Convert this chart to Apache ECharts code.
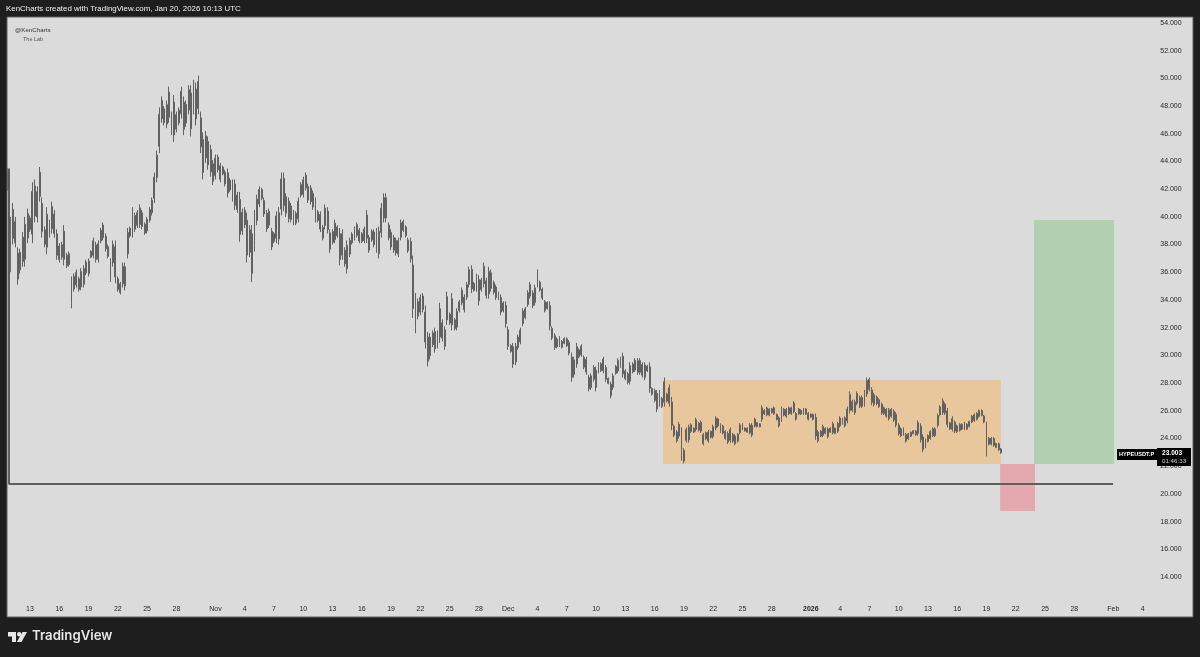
<!DOCTYPE html>
<html>
<head>
<meta charset="utf-8">
<title>HYPEUSDT.P</title>
<style>
    html, body { margin: 0; padding: 0; background: #1e1e1e; }
    #chart { width: 1200px; height: 657px; filter: blur(0.35px); }
</style>
<script src="https://cdn.jsdelivr.net/npm/echarts@6/dist/echarts.min.js"></script>
</head>
<body>
<div id="chart"></div>
<script>
// 6h bars
const highs = [
    43.5,40.0,41.0,40.0,37.8,37.7,38.9,40.0,40.6,40.1,42.5,42.7,42.2,43.6,41.4,39.3,40.7,39.8,41.1,40.5,
    39.1,38.1,38.2,39.4,37.4,37.5,35.7,35.9,36.2,35.7,36.3,36.5,36.9,37.0,37.6,38.5,38.2,38.3,39.2,39.6,
    38.8,38.0,37.0,38.3,38.3,35.7,35.3,36.7,36.7,39.2,39.3,40.7,40.3,40.5,40.9,40.5,39.6,40.0,40.7,41.4,
    43.2,44.8,47.9,48.7,48.0,48.4,49.4,47.6,48.8,47.6,47.9,49.4,48.7,48.4,49.5,49.5,49.9,49.7,50.2,47.6,
    46.1,46.2,45.8,45.2,44.1,44.5,44.5,43.9,43.7,43.4,43.5,42.8,42.7,42.7,41.8,41.8,40.6,40.7,40.3,39.4,
    39.4,40.5,41.6,42.2,42.1,41.4,40.5,40.6,39.2,38.9,40.4,40.7,43.2,43.2,41.7,41.4,41.0,40.5,40.4,41.4,
    42.5,42.9,43.2,42.4,42.3,41.9,41.4,40.5,40.4,39.4,40.9,40.7,39.1,39.1,39.8,39.4,39.2,39.1,37.8,38.3,
    38.5,38.9,39.3,39.6,39.2,38.9,39.3,40.5,38.7,39.1,39.1,39.2,39.3,41.0,41.7,41.7,39.6,39.1,38.7,38.5,
    38.5,39.8,39.8,39.4,38.5,38.5,37.2,34.5,34.1,34.4,34.5,33.6,31.7,31.6,31.8,32.0,31.8,33.8,32.6,32.1,
    34.6,33.1,34.5,32.7,33.4,34.0,34.9,34.4,35.3,36.4,36.5,35.3,35.9,35.8,35.6,36.7,35.6,36.4,36.2,35.4,
    35.1,34.6,34.4,33.9,33.9,32.1,30.8,30.9,30.9,31.5,32.0,33.4,33.5,34.7,35.3,34.7,35.1,36.2,35.4,34.9,
    34.0,33.9,33.9,32.1,31.6,31.3,31.4,31.1,31.3,31.3,31.1,30.2,29.9,30.9,30.5,30.8,30.0,29.9,28.6,28.7,
    29.3,29.2,29.5,29.5,29.9,29.3,28.4,28.1,28.7,29.3,29.8,29.9,30.2,29.0,28.8,29.5,29.5,29.8,29.8,29.8,
    29.5,29.5,29.3,29.5,27.7,27.6,27.5,27.5,27.0,28.4,27.3,27.9,27.0,25.0,24.6,25.2,24.8,23.3,24.8,25.0,
    25.1,24.8,25.5,25.2,25.3,24.4,24.5,24.6,24.6,25.0,25.6,25.5,25.1,25.0,24.6,24.5,24.8,24.4,24.3,24.4,
    25.1,25.1,24.8,24.8,25.1,25.1,25.5,25.2,25.1,26.4,26.1,26.3,26.2,26.2,26.3,25.8,25.6,26.3,26.2,26.2,
    26.3,26.3,26.7,25.9,26.2,26.1,26.2,26.2,25.9,25.8,25.8,25.8,24.6,24.6,25.0,24.8,24.8,24.8,25.2,24.8,
    25.2,25.6,25.5,25.6,26.3,27.4,26.8,26.8,27.4,27.1,27.1,27.5,28.4,28.4,27.7,27.3,27.1,26.9,26.6,26.3,
    26.2,26.2,26.2,26.1,25.9,25.1,24.8,24.8,24.4,24.4,24.5,24.6,24.6,25.3,25.1,24.3,24.0,24.3,24.6,24.8,
    24.8,25.8,26.4,26.9,26.6,26.2,25.2,25.6,25.3,25.0,25.1,25.1,25.2,25.1,25.3,25.7,25.8,25.9,26.1,26.1,
    25.7,25.2,24.1,24.1,24.1,23.7,23.7,23.3
];
const lows = [
    41.9,36.0,38.0,37.8,35.1,35.9,36.4,36.4,38.1,38.9,38.1,39.6,39.6,41.1,38.5,37.8,37.3,38.5,38.8,38.5,
    36.9,36.7,36.9,36.5,36.3,36.4,33.4,34.6,34.9,34.6,34.7,34.9,35.8,35.7,37.0,37.0,36.7,36.7,38.1,38.3,
    37.5,37.0,35.3,36.4,35.2,34.6,34.4,34.9,34.7,37.0,38.5,38.5,38.9,39.2,39.2,39.1,38.7,38.8,39.6,40.1,
    41.0,42.5,44.6,46.8,46.6,46.4,46.8,45.9,45.4,46.1,46.6,47.1,45.9,46.5,47.4,45.8,47.4,46.6,47.4,44.6,
    42.7,43.9,43.4,42.9,42.3,42.7,43.2,42.5,43.0,42.2,41.4,41.8,41.1,40.5,40.3,38.2,38.7,39.2,36.7,37.1,
    35.3,37.5,39.4,40.7,41.2,40.0,38.9,39.2,37.6,38.1,38.1,38.0,40.1,40.4,40.0,39.6,39.6,39.4,39.4,39.6,
    41.4,41.4,41.9,41.0,40.9,40.5,39.6,39.6,38.9,38.3,39.1,38.8,37.4,38.0,38.1,38.5,36.5,36.9,36.4,35.9,
    37.1,38.0,38.3,38.5,38.1,38.1,38.1,38.1,37.4,38.2,37.8,37.4,37.0,38.5,39.6,39.6,38.3,37.6,37.4,37.2,
    37.1,38.3,38.9,38.5,37.4,36.7,32.7,31.6,32.6,32.9,33.1,30.5,29.2,29.7,30.6,30.2,30.5,30.9,31.0,30.4,
    32.2,32.2,31.8,31.8,31.8,33.1,33.6,33.1,34.0,34.9,34.5,34.6,34.6,33.6,34.6,34.9,34.1,34.1,34.6,34.4,
    34.0,34.0,32.9,33.1,32.0,30.4,30.2,29.1,29.3,30.4,30.8,32.1,32.6,33.5,34.1,33.4,33.6,34.9,34.6,34.0,
    33.1,33.3,31.8,31.1,30.4,30.5,30.6,30.5,30.8,30.6,30.0,28.1,28.4,29.1,29.8,29.9,29.0,28.6,27.4,27.5,
    28.1,27.4,28.7,28.8,28.7,28.1,27.9,26.9,27.5,28.6,28.7,29.1,28.4,28.2,27.9,27.9,28.7,28.8,28.6,28.6,
    28.4,28.2,28.8,27.3,27.1,26.6,25.9,26.3,26.2,26.3,26.6,26.3,24.6,24.1,23.7,24.0,22.4,22.2,23.7,23.7,
    24.4,24.4,24.5,24.5,24.4,23.5,23.9,23.7,24.0,24.0,24.6,24.8,24.4,24.3,23.9,23.6,23.7,23.7,23.5,23.7,
    24.3,24.6,24.5,24.4,24.3,24.1,24.8,24.8,24.8,25.2,25.7,25.6,25.6,25.8,25.7,25.3,24.8,25.2,25.6,25.5,
    25.7,25.7,25.8,25.3,25.7,25.7,25.7,25.7,25.3,25.5,25.3,23.9,23.7,24.1,24.1,24.3,24.0,24.4,24.3,24.3,
    24.4,24.8,25.0,24.8,25.1,25.8,25.9,25.7,26.4,26.2,26.2,26.3,27.0,27.4,26.4,26.3,26.4,26.2,25.7,25.7,
    25.5,25.3,25.5,25.2,24.8,24.2,24.1,24.2,23.7,23.9,24.1,24.3,24.2,24.2,23.7,23.0,23.3,23.7,23.9,24.1,
    24.1,24.8,25.6,25.7,25.7,24.8,24.6,24.5,24.4,24.4,24.5,24.6,24.6,24.6,24.8,25.1,25.2,25.3,25.5,25.6,
    25.1,22.7,23.5,23.5,23.4,23.3,23.1,22.9
];
const closes = [
    42.2,38.5,39.0,38.2,36.0,36.5,37.2,38.8,39.5,39.4,40.5,41.0,41.5,41.5,39.3,38.8,39.0,39.2,40.0,39.0,
    37.5,37.2,37.5,37.0,36.8,36.5,34.5,35.2,35.3,35.0,35.5,36.0,36.2,36.8,37.4,37.5,37.3,38.0,38.6,38.5,
    37.9,37.1,36.3,37.5,35.6,35.0,35.0,35.8,36.5,38.5,38.9,39.5,39.4,39.6,40.0,39.4,39.1,39.6,40.2,41.0,
    42.0,43.8,46.8,47.8,47.0,47.5,47.2,46.5,47.0,46.8,47.6,48.0,47.2,47.7,48.3,47.5,48.5,47.6,47.8,45.0,
    44.0,44.8,44.2,43.5,43.0,43.5,43.4,43.0,43.2,42.8,42.0,42.2,41.8,41.2,40.8,39.6,39.4,39.8,38.0,38.0,
    37.5,39.0,40.5,41.5,41.5,40.5,39.8,39.3,38.2,38.6,39.5,40.0,42.0,41.5,40.5,40.3,40.0,39.8,40.0,41.0,
    41.9,42.5,41.9,41.5,41.4,41.0,40.2,40.0,39.3,39.0,40.2,39.0,38.0,38.7,38.8,38.9,37.8,37.2,37.0,37.5,
    38.2,38.6,38.9,38.9,38.5,38.6,38.9,38.3,38.0,38.8,38.2,38.6,38.8,40.0,40.5,39.9,38.8,38.0,37.8,37.6,
    38.3,39.4,39.0,38.6,38.0,37.0,33.5,33.2,33.7,33.5,33.4,31.2,30.2,31.0,31.1,30.8,31.2,32.0,31.4,31.8,
    32.6,32.4,32.2,32.4,33.0,33.7,33.9,34.0,35.0,35.8,35.0,35.1,35.4,35.0,35.2,35.3,34.8,35.5,35.0,34.8,
    34.3,34.1,33.5,33.4,32.2,30.6,30.5,29.8,30.2,31.0,31.8,32.6,33.2,34.2,34.5,34.0,34.6,35.2,34.8,34.2,
    33.5,33.6,32.0,31.3,30.9,31.0,31.0,30.9,31.1,30.9,30.2,29.0,29.7,30.0,30.1,30.0,29.3,28.7,27.9,28.1,
    28.5,29.0,29.2,29.0,28.9,28.3,28.0,27.6,28.5,29.0,29.5,29.3,28.7,28.5,28.6,29.2,29.0,29.4,29.0,29.2,
    28.9,29.1,29.2,27.6,27.5,27.0,26.8,26.6,26.5,26.9,27.0,26.6,25.0,24.5,24.0,24.5,22.9,23.0,24.4,24.6,
    24.7,24.6,25.0,24.9,24.6,24.0,24.2,24.3,24.4,24.8,25.4,25.0,24.8,24.5,24.2,24.0,24.2,24.0,24.1,24.3,
    24.9,24.8,24.6,24.7,24.9,24.5,25.2,25.0,25.1,26.1,25.9,25.9,25.9,26.0,25.8,25.5,25.2,26.0,25.8,26.0,
    25.8,26.0,25.9,25.6,26.0,25.9,26.0,25.9,25.5,25.7,25.5,24.3,24.2,24.4,24.8,24.5,24.6,24.5,24.9,24.6,
    25.0,25.2,25.3,25.4,26.0,26.2,26.2,26.7,26.7,26.6,26.9,27.2,28.0,27.4,26.9,26.8,26.6,26.4,26.0,25.9,
    25.9,25.8,25.7,25.6,25.1,24.6,24.6,24.3,24.0,24.2,24.4,24.4,24.5,24.5,24.0,23.5,23.9,24.2,24.5,24.6,
    24.7,25.6,26.0,26.1,25.8,25.0,25.0,24.8,24.7,24.8,24.7,24.8,24.8,24.9,25.2,25.6,25.7,25.8,25.9,25.7,
    25.2,24.0,23.8,23.8,23.6,23.5,23.2,23.0
];

// x axis: day number counted from Oct 13, the label shown there
const tickDays = [0,3,6,9,12,15,19,22,25,28,31,34,37,40,43,46,49,52,55,58,61,64,67,70,73,76,80,83,86,89,92,95,98,101,104,107,111,114];
const tickLabels = ['13','16','19','22','25','28','Nov','4','7','10','13','16','19','22','25','28','Dec','4','7','10','13','16','19','22','25','28','2026','4','7','10','13','16','19','22','25','28','Feb','4'];
const priceTicks = [14,16,18,20,22,24,26,28,30,32,34,36,38,40,42,44,46,48,50,52,54];

// drawn levels, prices and bar slots
const rangeTop = 28.22, rangeBottom = 22.16, rangeFrom = 268.4, rangeTo = 406.9;
const targetTop = 39.78, targetFrom = 420.5, targetTo = 453.3;
const stopBottom = 18.77, stopFrom = 406.6, stopTo = 420.9;
const supportPrice = 20.72, supportFrom = 0.2, supportTo = 452.9, supportStartPrice = 43.5;

const slotCount = 486;
const firstTickSlot = 9; // Oct 13 00:00

const categories = [];
for (let i = 0; i < slotCount; i++) {
    categories.push('');
}
tickDays.forEach((day, k) => {
    categories[firstTickSlot + day * 4] = tickLabels[k];
});

// bodies fill most of each bar in the picture, wicks are only the tips
const candleData = closes.map((close, i) => {
    const inset = (highs[i] - lows[i]) * 0.15;
    const bodyTop = highs[i] - inset;
    const bodyBottom = lows[i] + inset;
    const rising = i > 0 && close >= closes[i - 1];
    return rising ? [bodyBottom, bodyTop, lows[i], highs[i]] : [bodyTop, bodyBottom, lows[i], highs[i]];
});

const textFont = '"Liberation Sans", Arial, sans-serif';

const chart = echarts.init(document.getElementById('chart'), null, { renderer: 'canvas' });
chart.setOption({
    animation: false,
    backgroundColor: '#1e1e1e',
    grid: { left: 6.82, top: 17, width: 1185.84, height: 600, containLabel: false },
    xAxis: [{
        type: 'category',
        data: categories,
        boundaryGap: true,
        axisLine: { show: false },
        axisTick: { show: false },
        splitLine: { show: false },
        axisLabel: {
            inside: true,
            margin: 4,
            interval: (index, value) => value !== '',
            hideOverlap: false,
            color: '#262626',
            fontFamily: textFont,
            fontSize: 7,
            formatter: (value) => value === '2026' ? '{bold|2026}' : value,
            rich: { bold: { fontWeight: 'bold', fontSize: 7, color: '#262626', fontFamily: textFont } }
        }
    }, {
        type: 'value',
        min: -0.5,
        max: slotCount - 0.5,
        show: false
    }],
    yAxis: {
        type: 'value',
        position: 'right',
        min: 11.11,
        max: 54.43,
        axisLine: { show: false },
        axisTick: { show: false },
        splitLine: { show: false },
        axisLabel: {
            inside: true,
            margin: 11,
            customValues: priceTicks,
            color: '#262626',
            fontFamily: textFont,
            fontSize: 7,
            formatter: (value) => value.toFixed(3)
        }
    },
    series: [{
        type: 'line',
        name: 'levels',
        xAxisIndex: 1,
        data: [],
        silent: true,
        z: 1,
        markArea: {
            silent: true,
            data: [
                [{ coord: [rangeFrom, rangeTop], itemStyle: { color: '#e8c79c' } }, { coord: [rangeTo, rangeBottom] }],
                [{ coord: [targetFrom, targetTop], itemStyle: { color: '#b3d1b2' } }, { coord: [targetTo, rangeBottom] }],
                [{ coord: [stopFrom, rangeBottom], itemStyle: { color: '#e3a9ae' } }, { coord: [stopTo, stopBottom] }]
            ]
        },
        markLine: {
            silent: true,
            symbol: 'none',
            label: { show: false },
            lineStyle: { color: '#2e2e2e', width: 1.5, type: 'solid', shadowColor: '#ffffff', shadowBlur: 1 },
            data: [
                [{ coord: [supportFrom, supportPrice] }, { coord: [supportTo, supportPrice] }],
                [{ coord: [supportFrom, supportStartPrice] }, { coord: [supportFrom, supportPrice] }]
            ]
        }
    }, {
        type: 'candlestick',
        name: 'HYPEUSDT.P',
        data: candleData,
        barWidth: 1.4,
        z: 3,
        itemStyle: {
            color: '#757575',
            color0: '#757575',
            borderColor: '#626262',
            borderColor0: '#626262',
            borderWidth: 1
        }
    }],
    graphic: [
        { type: 'rect', z: -10, shape: { x: 7, y: 17, width: 1186, height: 600 }, style: { fill: '#dbdbdb', stroke: '#5f5f5f', lineWidth: 1 } },
        { type: 'text', left: 6, top: 5, style: { text: 'KenCharts created with TradingView.com, Jan 20, 2026 10:13 UTC', fill: '#f0f0f0', font: '7.9px ' + textFont } },
        { type: 'text', left: 15, top: 27, style: { text: '@KenCharts', fill: '#333', font: '6.2px ' + textFont } },
        { type: 'text', left: 23, top: 36, style: { text: 'The Lab', fill: '#555', font: '5.5px ' + textFont } },
        // price tag on the right
        { type: 'rect', z: 100, shape: { x: 1117, y: 449, width: 40, height: 11 }, style: { fill: '#000' } },
        { type: 'rect', z: 100, shape: { x: 1157, y: 448, width: 34, height: 18 }, style: { fill: '#000' } },
        { type: 'text', z: 101, left: 1119, top: 451, style: { text: 'HYPEUSDT.P', fill: '#fff', font: 'bold 5.6px ' + textFont } },
        { type: 'text', z: 101, left: 1162, top: 450, style: { text: '23.003', fill: '#fff', font: 'bold 6.6px ' + textFont } },
        { type: 'text', z: 101, left: 1162, top: 458, style: { text: '01:46:33', fill: '#d0d0d0', font: '6.2px ' + textFont } },
        // TradingView mark
        { type: 'polygon', shape: { points: [[8, 632], [16, 632], [16, 642], [12, 642], [12, 636.5], [8, 636.5]] }, style: { fill: '#e6e6e6' } },
        { type: 'circle', shape: { cx: 19.2, cy: 634.2, r: 2.2 }, style: { fill: '#e6e6e6' } },
        { type: 'polygon', shape: { points: [[22.5, 632], [27, 632], [21.5, 642], [16.8, 642]] }, style: { fill: '#e6e6e6' } },
        { type: 'text', left: 32, top: 630, style: { text: 'TradingView', fill: '#e6e6e6', font: '600 13.2px Inter, sans-serif' } }
    ]
});
</script>
</body>
</html>
